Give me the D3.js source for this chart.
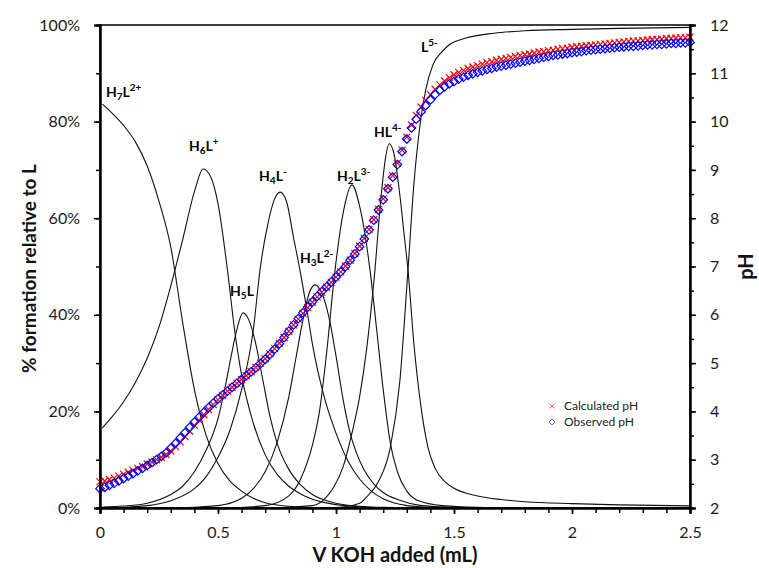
<!DOCTYPE html>
<html>
<head>
<meta charset="utf-8">
<script src="https://cdn.jsdelivr.net/npm/d3@7"></script>
<style>
body { margin: 0; background: #fff; }
svg text { font-family: Lato, "Open Sans", sans-serif; }
</style>
</head>
<body>
<svg id="chart" width="759" height="568"></svg>
<script>
// titrant volume (mL) for each pH reading
var volumes = [0,0.02,0.04,0.06,0.08,0.1,0.12,0.14,0.16,0.18,0.2,0.22,0.24,0.26,0.28,0.3,0.32,0.34,0.36,0.38,
  0.4,0.42,0.44,0.46,0.48,0.5,0.52,0.54,0.56,0.58,0.6,0.62,0.64,0.66,0.68,0.7,0.72,0.74,0.76,0.78,
  0.8,0.82,0.84,0.86,0.88,0.9,0.92,0.94,0.96,0.98,1,1.02,1.04,1.06,1.08,1.1,1.12,1.14,1.16,1.18,
  1.2,1.22,1.24,1.26,1.28,1.3,1.32,1.34,1.36,1.38,1.4,1.42,1.44,1.46,1.48,1.5,1.52,1.54,1.56,1.58,
  1.6,1.62,1.64,1.66,1.68,1.7,1.72,1.74,1.76,1.78,1.8,1.82,1.84,1.86,1.88,1.9,1.92,1.94,1.96,1.98,
  2,2.02,2.04,2.06,2.08,2.1,2.12,2.14,2.16,2.18,2.2,2.22,2.24,2.26,2.28,2.3,2.32,2.34,2.36,2.38,
  2.4,2.42,2.44,2.46,2.48,2.5];

var calcPH = [2.54,2.56,2.59,2.62,2.66,2.70,2.74,2.78,2.82,2.86,2.91,2.95,3.00,3.05,3.11,3.18,3.27,3.37,3.48,3.59,
  3.71,3.82,3.93,4.04,4.14,4.24,4.33,4.42,4.50,4.58,4.66,4.74,4.82,4.91,5.00,5.09,5.19,5.30,5.41,5.53,
  5.66,5.79,5.91,6.03,6.15,6.26,6.37,6.47,6.57,6.67,6.78,6.89,7.01,7.13,7.27,7.42,7.58,7.77,7.97,8.18,
  8.40,8.63,8.88,9.14,9.41,9.68,9.93,10.13,10.30,10.44,10.56,10.67,10.76,10.84,10.91,10.97,11.02,11.06,11.10,11.13,
  11.16,11.19,11.22,11.24,11.27,11.29,11.31,11.33,11.35,11.37,11.39,11.40,11.42,11.44,11.45,11.47,11.48,11.50,11.51,11.52,
  11.54,11.55,11.56,11.57,11.58,11.59,11.60,11.61,11.62,11.63,11.64,11.65,11.66,11.67,11.67,11.68,11.69,11.70,11.70,11.71,
  11.72,11.72,11.73,11.74,11.74,11.75];

var obsPH = [2.40,2.43,2.47,2.51,2.56,2.61,2.66,2.71,2.77,2.82,2.88,2.94,3.00,3.07,3.14,3.24,3.34,3.45,3.56,3.67,
  3.78,3.88,3.98,4.08,4.17,4.26,4.34,4.42,4.50,4.58,4.66,4.74,4.82,4.90,4.99,5.08,5.18,5.29,5.40,5.53,
  5.66,5.79,5.92,6.04,6.16,6.27,6.38,6.48,6.58,6.68,6.78,6.89,7.00,7.13,7.26,7.41,7.57,7.76,7.96,8.17,
  8.38,8.61,8.85,9.11,9.38,9.64,9.87,10.05,10.20,10.33,10.45,10.56,10.65,10.72,10.78,10.83,10.88,10.92,10.96,10.99,
  11.02,11.05,11.08,11.10,11.13,11.15,11.17,11.19,11.21,11.23,11.25,11.27,11.29,11.31,11.33,11.35,11.37,11.38,11.40,11.41,
  11.43,11.44,11.45,11.47,11.48,11.49,11.50,11.51,11.52,11.53,11.54,11.55,11.56,11.56,11.57,11.58,11.59,11.59,11.60,11.60,
  11.61,11.62,11.62,11.63,11.63,11.64];

// species distribution, [volume mL, % of L]
var h7l = [[0.01,83.6],[0.05,81.8],[0.1,79.2],[0.15,75.8],[0.2,70.8],[0.25,63.5],[0.3,54],[0.35,38.5],[0.4,24.5],
  [0.45,15],[0.5,9.2],[0.55,5.6],[0.6,3.5],[0.65,2],[0.7,1.1],[0.8,0.35],[0.9,0.1],[1.0,0.03],[1.2,0],[2.5,0]];
var h6l = [[0.01,16.6],[0.05,18.8],[0.1,22],[0.15,26],[0.2,31],[0.25,37.5],[0.3,46],[0.35,55.5],[0.4,65.5],[0.437,70.2],
  [0.47,68.5],[0.5,63],[0.54,49.3],[0.57,37],[0.6,27.5],[0.65,17.5],[0.7,11],[0.75,7],[0.8,4.5],[0.85,2.9],[0.9,1.8],
  [1.0,0.7],[1.1,0.25],[1.2,0.08],[1.4,0],[2.5,0]];
var h5l = [[0.01,0.2],[0.1,0.4],[0.2,1],[0.3,2.8],[0.35,4.5],[0.4,7.5],[0.45,12],[0.5,18.5],[0.53,25],[0.56,32.5],[0.58,37],
  [0.606,40.4],[0.63,39],[0.66,34],[0.69,26.5],[0.72,19],[0.75,13.5],[0.8,8],[0.85,4.8],[0.9,2.8],[1.0,1],
  [1.1,0.35],[1.2,0.12],[1.4,0],[2.5,0]];
var h4l = [[0.01,0],[0.2,0.5],[0.3,1.5],[0.4,4],[0.45,6.5],[0.5,10.5],[0.55,16],[0.6,24.5],[0.65,37],[0.678,49.3],[0.71,58.5],
  [0.74,64],[0.763,65.4],[0.79,63.5],[0.82,56],[0.847,49.3],[0.88,40],[0.9,34],[0.95,23],[1.0,15.5],[1.05,9.8],[1.1,6],
  [1.15,3.5],[1.2,1.9],[1.3,0.5],[1.4,0.15],[1.6,0],[2.5,0]];
var h3l = [[0.01,0],[0.3,0],[0.5,0.5],[0.6,2],[0.65,4],[0.7,7.5],[0.75,13.5],[0.8,23],[0.83,31],[0.86,39],[0.885,44.3],
  [0.911,46.2],[0.94,44.5],[0.97,39.5],[1.0,31.5],[1.03,22.5],[1.06,15.5],[1.09,11],[1.12,7.8],[1.16,5],[1.2,3.2],
  [1.27,1.6],[1.35,0.6],[1.45,0.25],[1.6,0.05],[2.5,0]];
var h2l = [[0.01,0],[0.5,0],[0.7,0.5],[0.8,2.5],[0.85,6],[0.9,13],[0.93,20],[0.96,32],[0.996,49.3],[1.03,61],[1.068,66.9],
  [1.1,62.5],[1.125,56],[1.144,49.3],[1.17,38],[1.2,24.5],[1.23,13.5],[1.26,7.5],[1.3,3.5],[1.35,1.5],[1.45,0.5],
  [1.6,0.15],[1.8,0.05],[2.5,0]];
var hl = [[0.01,0],[0.7,0],[0.9,0.5],[0.95,1.8],[0.99,4.3],[1.03,8.5],[1.07,16],[1.1,23],[1.13,33],[1.165,49.3],[1.19,64],
  [1.21,72.5],[1.225,75.4],[1.245,73.5],[1.27,65],[1.29,56],[1.305,49.3],[1.33,34],[1.36,21],[1.39,12.5],[1.42,8.2],
  [1.46,5.5],[1.5,4.1],[1.6,2.5],[1.7,1.75],[1.8,1.3],[2.0,0.9],[2.2,0.65],[2.5,0.45]];
var l5 = [[0.01,0],[0.9,0],[1.0,0.1],[1.1,1],[1.13,2.3],[1.18,5.5],[1.23,12.5],[1.27,26],[1.305,49.3],[1.33,67],[1.356,79.3],
  [1.38,86.5],[1.41,91.7],[1.45,94.5],[1.48,95.9],[1.55,97.3],[1.67,98.3],[1.8,98.8],[2.0,99.1],[2.2,99.3],[2.5,99.5]];

var speciesCurves = [h7l, h6l, h5l, h4l, h3l, h2l, hl, l5];

var svg = d3.select("#chart");
var plotLeft = 100, plotRight = 690, plotTop = 25, plotBottom = 508;

var x = d3.scaleLinear().domain([0, 2.5]).range([plotLeft, plotRight]);
var yPct = d3.scaleLinear().domain([0, 100]).range([plotBottom, plotTop]);
var yPH = d3.scaleLinear().domain([2, 12]).range([plotBottom, plotTop]);

// plot border
svg.append("rect")
  .attr("x", plotLeft).attr("y", plotTop)
  .attr("width", plotRight - plotLeft).attr("height", plotBottom - plotTop)
  .attr("fill", "none").attr("stroke", "#000").attr("stroke-width", 1.5);

var line = d3.line()
  .x(function (d) { return x(d[0]); })
  .y(function (d) { return yPct(d[1]); })
  .curve(d3.curveMonotoneX);

svg.append("g").selectAll("path")
  .data(speciesCurves)
  .enter().append("path")
  .attr("d", line)
  .attr("fill", "none")
  .attr("stroke", "#111")
  .attr("stroke-width", 1.1);

var crossPath = "M-3.5,-3.5L3.5,3.5M-3.5,3.5L3.5,-3.5";
var diamondPath = "M0,-4.3L4.3,0L0,4.3L-4.3,0Z";

svg.append("g").selectAll("path")
  .data(volumes)
  .enter().append("path")
  .attr("d", crossPath)
  .attr("transform", function (d, i) { return "translate(" + x(d) + "," + yPH(calcPH[i]) + ")"; })
  .attr("stroke", "#ff0000")
  .attr("stroke-width", 1.2)
  .attr("fill", "none");

svg.append("g").selectAll("path")
  .data(volumes)
  .enter().append("path")
  .attr("d", diamondPath)
  .attr("transform", function (d, i) { return "translate(" + x(d) + "," + yPH(obsPH[i]) + ")"; })
  .attr("stroke", "#0000ff")
  .attr("stroke-width", 1.2)
  .attr("fill", "none");

// axes
function styleAxis(g) {
  g.select(".domain").attr("stroke", "#000").attr("stroke-width", 2);
  g.selectAll(".tick line").attr("stroke", "#000").attr("stroke-width", 1.5);
  g.selectAll(".tick text").attr("font-size", "16px").attr("fill", "#1a1a1a").attr("font-family", "Lato, sans-serif");
}

svg.append("g")
  .attr("transform", "translate(" + plotLeft + ",0)")
  .call(d3.axisLeft(yPct).tickValues(d3.range(0, 101, 10)).tickSize(4).tickFormat(""))
  .call(styleAxis);
svg.append("g")
  .attr("transform", "translate(" + plotLeft + ",0)")
  .call(d3.axisLeft(yPct).tickValues([0, 20, 40, 60, 80, 100]).tickSize(6).tickPadding(14)
    .tickFormat(function (d) { return d + "%"; }))
  .call(styleAxis);

svg.append("g")
  .attr("transform", "translate(0," + plotBottom + ")")
  .call(d3.axisBottom(x).tickValues(d3.range(0, 26).map(function (i) { return i / 10; })).tickSize(5).tickFormat(""))
  .call(styleAxis);
svg.append("g")
  .attr("transform", "translate(0," + plotBottom + ")")
  .call(d3.axisBottom(x).tickValues([0, 0.5, 1, 1.5, 2, 2.5]).tickSize(6).tickPadding(13).tickFormat(d3.format("")))
  .call(styleAxis);

svg.append("g")
  .attr("transform", "translate(" + plotRight + ",0)")
  .call(d3.axisRight(yPH).tickValues(d3.range(4, 25).map(function (i) { return i / 2; })).tickSize(4).tickFormat(""))
  .call(styleAxis);
svg.append("g")
  .attr("transform", "translate(" + plotRight + ",0)")
  .call(d3.axisRight(yPH).tickValues(d3.range(2, 13)).tickSize(6).tickPadding(14))
  .call(styleAxis);

// axis titles
var midY = (plotTop + plotBottom) / 2;
svg.append("text")
  .attr("transform", "translate(36," + (midY + 2) + ") rotate(-90)")
  .attr("text-anchor", "middle")
  .attr("font-size", "19px").attr("font-weight", "bold").attr("fill", "#111")
  .text("% formation relative to L");
svg.append("text")
  .attr("x", (plotLeft + plotRight) / 2).attr("y", 562)
  .attr("text-anchor", "middle")
  .attr("font-size", "20px").attr("font-weight", "bold").attr("fill", "#111")
  .text("V KOH added (mL)");
svg.append("text")
  .attr("transform", "translate(753," + midY + ") rotate(-90)")
  .attr("text-anchor", "middle")
  .attr("font-size", "20px").attr("font-weight", "bold").attr("fill", "#111")
  .text("pH");

// species labels: [volume, %, sub, sup]
var labels = [
  [0.025, 85.1, "7", "2+"],
  [0.377, 73.9, "6", "+"],
  [0.551, 43.9, "5", ""],
  [0.674, 67.7, "4", "-"],
  [0.847, 50.7, "3", "2-"],
  [1.004, 67.7, "2", "3-"],
  [1.161, 76.8, "", "4-"],
  [1.36, 94.4, null, "5-"]
];

labels.forEach(function (lb) {
  var t = svg.append("text")
    .attr("x", x(lb[0])).attr("y", yPct(lb[1]))
    .attr("font-size", "14px").attr("font-weight", "bold").attr("fill", "#000");
  if (lb[2] !== null) t.append("tspan").text("H");
  if (lb[2]) t.append("tspan").attr("font-size", "10px").attr("dy", 3).text(lb[2]);
  t.append("tspan").attr("dy", lb[2] ? -3 : 0).text("L");
  if (lb[3]) t.append("tspan").attr("font-size", "10px").attr("dy", -6).text(lb[3]);
});

// legend
var legend = svg.append("g").attr("transform", "translate(552,406)");
legend.append("path").attr("d", "M-2.5,-2.5L2.5,2.5M-2.5,2.5L2.5,-2.5")
  .attr("stroke", "#ff6060").attr("stroke-width", 1).attr("fill", "none");
legend.append("path").attr("d", "M0,-3L3,0L0,3L-3,0Z").attr("transform", "translate(0,16)")
  .attr("stroke", "#6060ff").attr("stroke-width", 1).attr("fill", "none");
legend.append("text").attr("x", 12).attr("y", 4).attr("font-size", "12px").attr("fill", "#222").text("Calculated pH");
legend.append("text").attr("x", 12).attr("y", 20).attr("font-size", "12px").attr("fill", "#222").text("Observed pH");
</script>
</body>
</html>
